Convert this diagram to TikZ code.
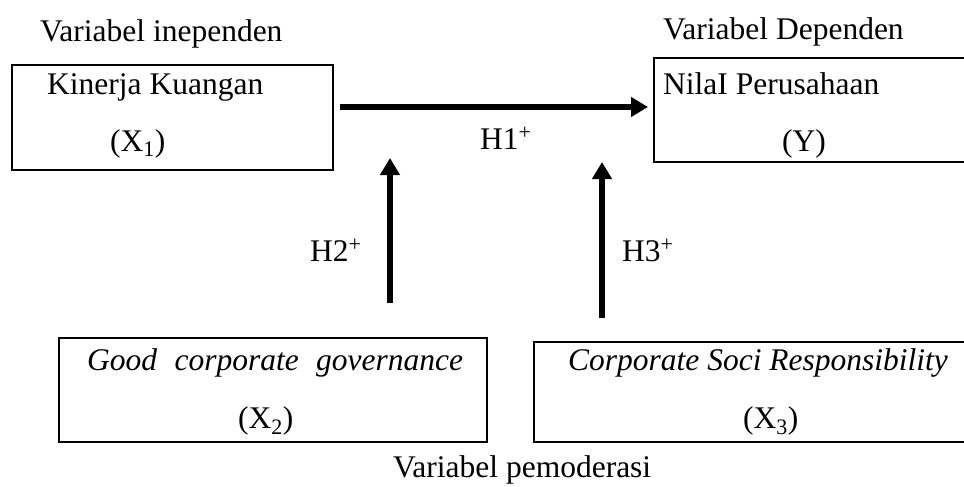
\documentclass[tikz,border=0pt]{standalone}
\usepackage{fontspec}
\setmainfont{Liberation Serif}
\usetikzlibrary{arrows.meta}

\tikzset{
    kotak/.style={draw,line width=1.5pt,rectangle,inner sep=0pt,outer sep=0pt,anchor=north west},
    teks/.style={inner sep=0pt,anchor=base west,font=\fontsize{31.5}{36}\selectfont},
    panah/.style={line width=5.5pt,-{Triangle[length=17pt,width=19pt]}}
}

\begin{document}
\begin{tikzpicture}[x=1pt,y=-1pt]
    \useasboundingbox (0,0) rectangle (964,487);

    % Kotak variabel
    \node[kotak,minimum width=321pt,minimum height=105pt] (kinerja) at (12,65) {};

    \node[kotak,minimum width=330pt,minimum height=104pt] (nilai) at (654,58) {};

    \node[kotak,minimum width=428pt,minimum height=104pt] (gcg) at (59,338) {};

    \node[kotak,minimum width=440pt,minimum height=100pt] (csr) at (534,342) {};

    % Judul
    \node[teks] (judulX) at (40,42) {Variabel inependen};

    \node[teks] (judulY) at (663,40) {Variabel Dependen};

    \node[teks] (judulM) at (393,477) {Variabel pemoderasi};

    % Isi kotak
    \node[teks] (namaX1) at (47,95) {Kinerja Kuangan};
    \node[teks] (kodeX1) at (110,151) {(X\textsubscript{1})};

    \node[teks] (namaY) at (663,95) {NilaI Perusahaan};
    \node[teks] (kodeY) at (782,151) {(Y)};

    \node[teks] (namaX2) at (87,370) {\makebox[376pt][s]{\itshape Good corporate governance}};
    \node[teks] (kodeX2) at (238,428) {(X\textsubscript{2})};

    \node[teks] (namaX3) at (568,370) {\itshape Corporate Soci Responsibility};
    \node[teks] (kodeX3) at (743,428) {(X\textsubscript{3})};

    % Hipotesis
    \coordinate (h1awal) at (340,107);
    \coordinate (h1akhir) at (648,107);
    \draw[panah] (h1awal) -- (h1akhir);
    \node[teks] (labelH1) at (480,149) {H1\textsuperscript{+}};

    \coordinate (h2awal) at (390,303);
    \coordinate (h2akhir) at (390,158);
    \draw[panah] (h2awal) -- (h2akhir);
    \node[teks] (labelH2) at (310,261) {H2\textsuperscript{+}};

    \coordinate (h3awal) at (602,318);
    \coordinate (h3akhir) at (602,162);
    \draw[panah] (h3awal) -- (h3akhir);
    \node[teks] (labelH3) at (622,261) {H3\textsuperscript{+}};
\end{tikzpicture}
\end{document}
